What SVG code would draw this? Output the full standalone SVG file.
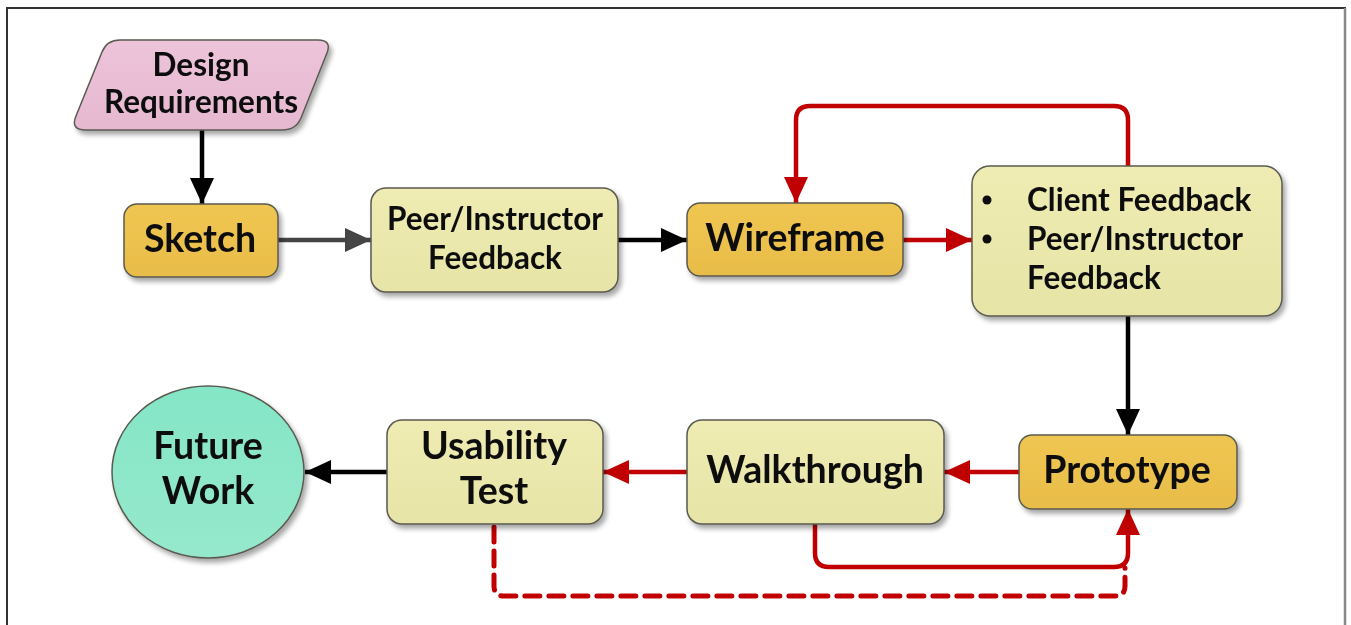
<svg xmlns="http://www.w3.org/2000/svg" width="1351" height="625" viewBox="0 0 1351 625">
  <defs>
    <style>
      .lbl { font-family: Lato, "Open Sans", "Liberation Sans", sans-serif; font-weight: bold; fill: #111; text-anchor: middle; }
      .big { font-size: 37.5px; }
      .sm { font-size: 31.5px; }
      .left { text-anchor: start; }
      .box { stroke: #5a5a50; stroke-width: 1.5; }
      .orange { fill: url(#gOrange); }
      .yellow { fill: url(#gYellow); }
      .edge { fill: none; stroke-width: 4.5; stroke-linejoin: round; }
      .k { stroke: #000; }
      .g { stroke: #444; }
      .r { stroke: #C00000; }
      .dash { stroke-width: 5; stroke-dasharray: 15 9; stroke-linecap: round; }
    </style>
    <linearGradient id="gOrange" x1="0" y1="0" x2="0" y2="1">
      <stop offset="0" stop-color="#F0C652"/>
      <stop offset="1" stop-color="#E8BC48"/>
    </linearGradient>
    <linearGradient id="gYellow" x1="0" y1="0" x2="0" y2="1">
      <stop offset="0" stop-color="#EEECB2"/>
      <stop offset="1" stop-color="#E6E4A6"/>
    </linearGradient>
    <linearGradient id="gPink" x1="0" y1="0" x2="0" y2="1">
      <stop offset="0" stop-color="#EDC4DA"/>
      <stop offset="1" stop-color="#E6B8D0"/>
    </linearGradient>
    <linearGradient id="gTeal" x1="0" y1="0" x2="0" y2="1">
      <stop offset="0" stop-color="#84E6C6"/>
      <stop offset="1" stop-color="#96E8CC"/>
    </linearGradient>
    <filter id="shadow" x="-10%" y="-10%" width="130%" height="140%">
      <feGaussianBlur in="SourceAlpha" stdDeviation="2.5"/>
      <feOffset dx="3" dy="4" result="b"/>
      <feComponentTransfer><feFuncA type="linear" slope="0.35"/></feComponentTransfer>
      <feMerge><feMergeNode/><feMergeNode in="SourceGraphic"/></feMerge>
    </filter>
    <marker id="ahK" viewBox="0 0 26 24" refX="26" refY="12" markerWidth="26" markerHeight="24" markerUnits="userSpaceOnUse" orient="auto">
      <path d="M0,0 L26,12 L0,24 Z" fill="#000"/>
    </marker>
    <marker id="ahG" viewBox="0 0 26 24" refX="26" refY="12" markerWidth="26" markerHeight="24" markerUnits="userSpaceOnUse" orient="auto">
      <path d="M0,0 L26,12 L0,24 Z" fill="#444"/>
    </marker>
    <marker id="ahR" viewBox="0 0 26 24" refX="26" refY="12" markerWidth="26" markerHeight="24" markerUnits="userSpaceOnUse" orient="auto">
      <path d="M0,0 L26,12 L0,24 Z" fill="#C00000"/>
    </marker>
  </defs>

  <rect width="1351" height="625" fill="#fff"/>
  <!-- outer frame -->
  <path d="M7,625 V8 H1345 V625" fill="none" stroke="#333" stroke-width="2"/>
  <path d="M1345,8 V625" fill="none" stroke="#888" stroke-width="2.5"/>

  <!-- connectors -->
  <g id="connectors">
    <path class="edge k" d="M202,130 V204" marker-end="url(#ahK)"/>
    <path class="edge g" d="M278,240 H371" marker-end="url(#ahG)"/>
    <path class="edge k" d="M618,240 H687" marker-end="url(#ahK)"/>
    <path class="edge r" d="M903,240 H972" marker-end="url(#ahR)"/>
    <path class="edge r" d="M1128,166 V120 Q1128,106 1114,106 H810 Q796,106 796,120 V203" marker-end="url(#ahR)"/>
    <path class="edge k" d="M1128,316 V435" marker-end="url(#ahK)"/>
    <path class="edge r" d="M1019,472 H944" marker-end="url(#ahR)"/>
    <path class="edge r" d="M687,472 H603" marker-end="url(#ahR)"/>
    <path class="edge k" d="M387,472 H305" marker-end="url(#ahK)"/>
    <path class="edge r" d="M815,524 V553 Q815,567 829,567 H1114 Q1128,567 1128,553 V509" marker-end="url(#ahR)"/>
    <path class="edge r dash" d="M494,527 V586 Q494,596 504,596 H1115 Q1125,596 1125,586 V568"/>
  </g>

  <!-- nodes -->
  <g id="design-requirements" filter="url(#shadow)">
    <path class="box" fill="url(#gPink)" d="M120,40 H318 Q332,40 327,53 L301,118 Q296,130 282,130 H86 Q70,130 76,116 L102,52 Q107,40 120,40 Z"/>
    <text class="lbl sm" x="201" y="76">Design</text>
    <text class="lbl sm" x="201" y="113">Requirements</text>
  </g>

  <g id="sketch" filter="url(#shadow)">
    <rect class="box orange" x="124" y="204" width="154" height="73" rx="13"/>
    <text class="lbl big" x="200" y="252">Sketch</text>
  </g>

  <g id="peer-feedback" filter="url(#shadow)">
    <rect class="box yellow" x="371" y="188" width="247" height="104" rx="15"/>
    <text class="lbl sm" x="495" y="230">Peer/Instructor</text>
    <text class="lbl sm" x="495" y="269">Feedback</text>
  </g>

  <g id="wireframe" filter="url(#shadow)">
    <rect class="box orange" x="687" y="203" width="216" height="73" rx="13"/>
    <text class="lbl big" x="795" y="251">Wireframe</text>
  </g>

  <g id="client-feedback" filter="url(#shadow)">
    <rect class="box yellow" x="972" y="166" width="310" height="150" rx="18"/>
    <circle cx="987" cy="200" r="4.5" fill="#111"/>
    <circle cx="987" cy="239" r="4.5" fill="#111"/>
    <text class="lbl sm left" x="1027" y="211">Client Feedback</text>
    <text class="lbl sm left" x="1027" y="250">Peer/Instructor</text>
    <text class="lbl sm left" x="1027" y="289">Feedback</text>
  </g>

  <g id="prototype" filter="url(#shadow)">
    <rect class="box orange" x="1019" y="435" width="218" height="74" rx="13"/>
    <text class="lbl big" x="1127" y="483">Prototype</text>
  </g>

  <g id="walkthrough" filter="url(#shadow)">
    <rect class="box yellow" x="687" y="420" width="257" height="104" rx="15"/>
    <text class="lbl big" x="815" y="483">Walkthrough</text>
  </g>

  <g id="usability-test" filter="url(#shadow)">
    <rect class="box yellow" x="387" y="420" width="216" height="104" rx="15"/>
    <text class="lbl big" x="494" y="459">Usability</text>
    <text class="lbl big" x="494" y="504">Test</text>
  </g>

  <g id="future-work" filter="url(#shadow)">
    <ellipse class="box" fill="url(#gTeal)" cx="208" cy="472" rx="96" ry="86"/>
    <text class="lbl big" x="208" y="459">Future</text>
    <text class="lbl big" x="208" y="504">Work</text>
  </g>
</svg>
